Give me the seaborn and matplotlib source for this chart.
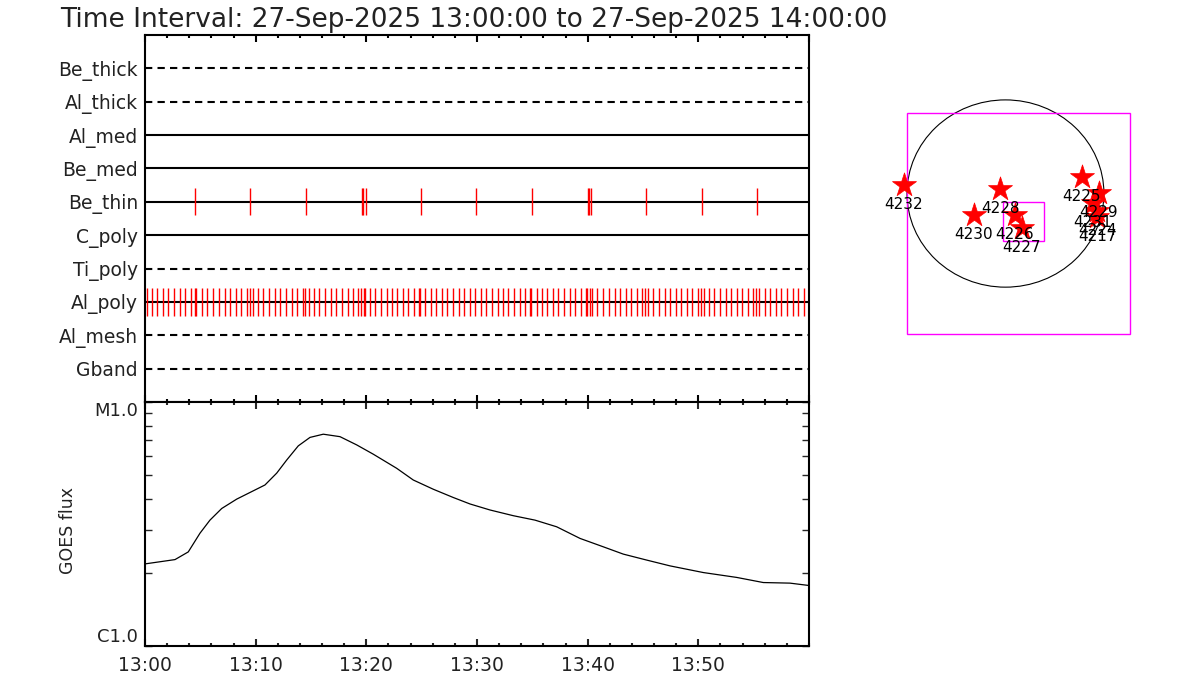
import numpy as np
import matplotlib
matplotlib.use("Agg")
import matplotlib.pyplot as plt
import seaborn as sns
import pandas as pd
from matplotlib.patches import Circle, Rectangle
from matplotlib.ticker import MultipleLocator, LogLocator, NullFormatter

# ----------------------------
# Data
# ----------------------------
title = "Time Interval: 27-Sep-2025 13:00:00 to 27-Sep-2025 14:00:00"

filters = ["Be_thick", "Al_thick", "Al_med", "Be_med", "Be_thin",
           "C_poly", "Ti_poly", "Al_poly", "Al_mesh", "Gband"]
dashed = ["Be_thick", "Al_thick", "Ti_poly", "Al_mesh", "Gband"]

# exposure times, minutes after 13:00
be_thin_times = [4.55, 9.52, 14.58, 19.64, 19.70, 20.00, 24.97, 29.94, 35.00,
                 40.06, 40.15, 40.33, 45.30, 50.36, 55.33]
al_poly_times = [
    0.18, 0.66, 1.11, 1.65, 2.10, 2.65, 3.19, 3.64, 4.13, 4.49, 4.64, 5.18,
    5.63, 6.17, 6.71, 7.26, 7.71, 8.25, 8.70, 9.24, 9.52, 9.79, 10.24, 10.69,
    11.23, 11.77, 12.23, 12.77, 13.31, 13.76, 14.30, 14.48, 14.85,
    15.27, 15.75, 16.29, 16.83, 17.29, 17.83, 18.37, 18.82, 19.27, 19.54,
    19.81, 19.90, 20.36, 20.81, 21.36, 21.90, 22.35, 22.80, 23.34, 23.80,
    24.34, 24.79, 24.88, 25.33, 25.87, 26.32, 26.87, 27.32, 27.86, 28.40,
    28.85, 29.40, 29.85,
    30.36, 30.84, 31.38, 31.93, 32.38, 32.83, 33.37, 33.92, 34.37, 34.82,
    34.91, 35.45, 35.90, 36.36, 36.90, 37.35, 37.89, 38.44, 38.89, 39.43,
    39.88, 39.97, 40.24, 40.42, 40.88, 41.42, 41.96, 42.50, 42.95, 43.50,
    43.95, 44.49, 44.94, 45.21,
    45.48, 45.93, 46.48, 47.02, 47.47, 48.01, 48.46, 49.00, 49.46, 50.00,
    50.27, 50.54, 50.99, 51.45, 51.99, 52.53, 52.98, 53.52, 53.98, 54.52,
    54.97, 55.24, 55.51, 56.05, 56.51, 57.05, 57.50, 58.04, 58.59, 59.04,
    59.58, 60.00]

goes_t = [0.0, 2.71, 3.91, 4.97, 5.87, 6.93, 8.29, 9.94, 10.84, 11.90, 12.80,
          13.85, 14.91, 16.11, 17.62, 19.13, 20.63, 22.74, 24.24, 26.05, 27.86,
          29.37, 31.17, 33.28, 35.24, 37.20, 39.31, 41.41, 43.22, 45.33, 47.44,
          50.45, 53.47, 55.87, 58.28, 60.0]
goes_flux = [2.17e-6, 2.26e-6, 2.43e-6, 2.90e-6, 3.28e-6, 3.66e-6, 4.00e-6,
             4.36e-6, 4.57e-6, 5.11e-6, 5.78e-6, 6.61e-6, 7.16e-6, 7.38e-6,
             7.21e-6, 6.67e-6, 6.11e-6, 5.35e-6, 4.79e-6, 4.39e-6, 4.06e-6,
             3.82e-6, 3.61e-6, 3.42e-6, 3.28e-6, 3.08e-6, 2.76e-6, 2.55e-6,
             2.38e-6, 2.25e-6, 2.13e-6, 2.00e-6, 1.91e-6, 1.82e-6, 1.81e-6,
             1.77e-6]

time_ticks = [0, 10, 20, 30, 40, 50]
time_labels = ["13:00", "13:10", "13:20", "13:30", "13:40", "13:50"]
flux_ticks = [1e-6, 1e-5]
flux_labels = ["C1.0", "M1.0"]

# active regions on the disk (arcsec)
ar_names = ["4232", "4228", "4230", "4226", "4227", "4225", "4229", "4231",
            "4224", "4217"]
ar_x = [-985, -53, -306, 92, 160, 742, 907, 849, 888, 888]
ar_y = [87, 46, -219, -219, -352, 168, 5, -97, -178, -240]
sun_radius = 955
fov_big = (-956, -1433, 2164, 2254)   # x0, y0, w, h
fov_small = (-24, -485, 397, 398)

# ----------------------------
# Style
# ----------------------------
sns.set_style("ticks")
plt.rcParams["font.family"] = ["DejaVu Sans"]
plt.rcParams["xtick.direction"] = "in"
plt.rcParams["ytick.direction"] = "in"

fig = plt.figure(figsize=(12, 7), dpi=100)
fig.text(0.05, 0.99, title, fontsize=19, color="#222222", ha="left", va="top")

# ----------------------------
# Filter timeline panel
# ----------------------------
ax1 = fig.add_axes([145/1200, 1-402/700, 664/1200, 367/700])
for i, name in enumerate(filters, start=1):
    ls = (0, (3.5, 2.5)) if name in dashed else "-"
    ax1.axhline(i, color="black", lw=1.5, ls=ls, zorder=1)

rows = {"Be_thin": be_thin_times, "Al_poly": al_poly_times}
for name, times in rows.items():
    yrow = filters.index(name) + 1
    ax1.vlines(times, yrow - 0.41, yrow + 0.41, color="red", lw=1.0, zorder=2)

ax1.set_xlim(0, 60)
ax1.set_ylim(11, 0)
ax1.set_yticks(range(1, len(filters) + 1))
ax1.set_yticklabels(filters, fontsize=13.5, color="#222222")
ax1.tick_params(axis="y", length=0, pad=5)
ax1.xaxis.set_major_locator(MultipleLocator(10))
ax1.xaxis.set_minor_locator(MultipleLocator(2))
ax1.tick_params(axis="x", which="both", top=True, bottom=True, labelbottom=False,
                width=1.5, color="black")
ax1.tick_params(axis="x", which="major", length=5)
ax1.tick_params(axis="x", which="minor", length=2.5)
for sp in ax1.spines.values():
    sp.set_linewidth(1.5)
    sp.set_color("black")

# ----------------------------
# GOES panel
# ----------------------------
ax2 = fig.add_axes([145/1200, 1-646/700, 664/1200, 244/700])
goes = pd.DataFrame({"t": goes_t, "flux": goes_flux})
sns.lineplot(data=goes, x="t", y="flux", color="black", lw=0.9, ax=ax2)
ax2.set_yscale("log")
ax2.set_xlim(0, 60)
ax2.set_ylim(1e-6, 1e-5)
ax2.set_xticks(time_ticks)
ax2.set_xticklabels(time_labels, fontsize=13.5, color="#222222")
ax2.xaxis.set_minor_locator(MultipleLocator(2))
ax2.set_yticks(flux_ticks)
ax2.set_yticklabels(flux_labels, fontsize=13, color="#222222")
ax2.yaxis.set_minor_locator(LogLocator(base=10, subs=np.arange(2, 10)))
ax2.yaxis.set_minor_formatter(NullFormatter())
ax2.tick_params(axis="x", which="both", top=True, bottom=True, width=1.5, pad=7)
ax2.tick_params(axis="x", which="major", length=5)
ax2.tick_params(axis="x", which="minor", length=2.5)
ax2.tick_params(axis="y", which="both", left=True, right=True, width=1.0, pad=5)
ax2.tick_params(axis="y", which="major", length=5)
ax2.tick_params(axis="y", which="minor", length=5)
ylabs = ax2.get_yticklabels()
ylabs[0].set_verticalalignment("bottom")
ylabs[1].set_verticalalignment("top")
ax2.set_xlabel("")
ax2.set_ylabel("GOES flux", fontsize=12.5, color="#222222")
ax2.yaxis.set_label_coords(-0.102, 0.475)
for sp in ax2.spines.values():
    sp.set_linewidth(1.5)
    sp.set_color("black")

# ----------------------------
# Solar disk panel
# ----------------------------
ax3 = fig.add_axes([860/1200, 1-380/700, 320/1200, 320/700])
ax3.set_xlim(-1411, 1693)
ax3.set_ylim(-1902, 1362)
ax3.axis("off")
ax3.add_patch(Circle((0, 0), sun_radius, fill=False, color="black", lw=0.8))
ax3.add_patch(Rectangle(fov_big[:2], fov_big[2], fov_big[3], fill=False,
                        color="#ff00ff", lw=1.0))
ax3.add_patch(Rectangle(fov_small[:2], fov_small[2], fov_small[3], fill=False,
                        color="#ff00ff", lw=1.0))
ars = pd.DataFrame({"x": ar_x, "y": ar_y, "name": ar_names})
sns.scatterplot(data=ars, x="x", y="y", marker="*", s=330, color="red",
                edgecolor="red", linewidth=0.5, ax=ax3, zorder=3, legend=False)
for _, r in ars.iterrows():
    ax3.annotate(r["name"], (r["x"], r["y"]), xytext=(0, -14),
                 textcoords="offset points", ha="center", va="center",
                 fontsize=11, color="black", zorder=4)

fig.savefig("out.png", dpi=100)
